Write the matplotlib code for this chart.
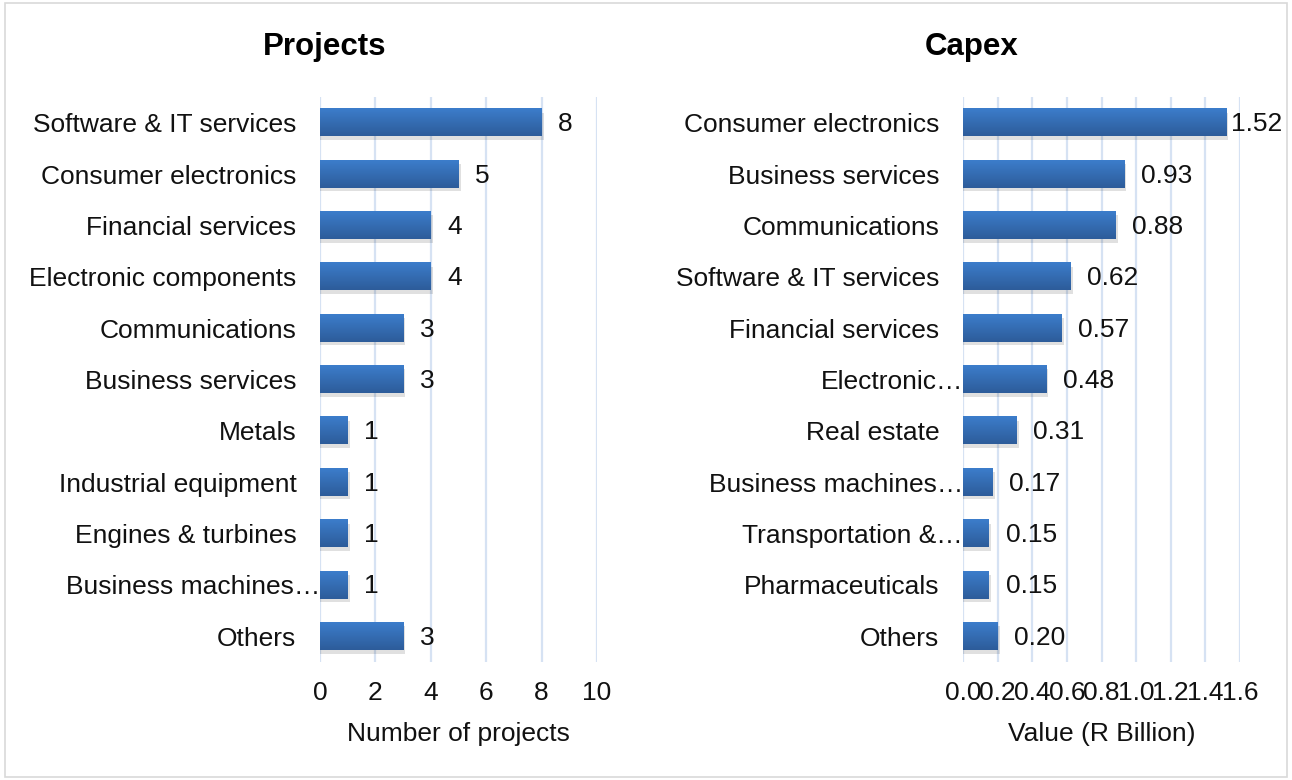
import matplotlib
matplotlib.use("Agg")
import matplotlib.pyplot as plt
import numpy as np
from matplotlib.patches import Rectangle
from matplotlib.transforms import ScaledTranslation

plt.rcParams['font.family'] = ['Liberation Sans', 'DejaVu Sans']

# data
proj_labels = ["Software & IT services", "Consumer electronics", "Financial services",
               "Electronic components", "Communications", "Business services", "Metals",
               "Industrial equipment", "Engines & turbines", "Business machines\u2026", "Others"]
proj_values = [8, 5, 4, 4, 3, 3, 1, 1, 1, 1, 3]
proj_ticks = [0, 2, 4, 6, 8, 10]

capex_labels = ["Consumer electronics", "Business services", "Communications",
                "Software & IT services", "Financial services", "Electronic\u2026",
                "Real estate", "Business machines\u2026", "Transportation &\u2026",
                "Pharmaceuticals", "Others"]
capex_values = [1.52, 0.93, 0.88, 0.62, 0.57, 0.48, 0.31, 0.17, 0.15, 0.15, 0.20]
capex_ticks = [0.0, 0.2, 0.4, 0.6, 0.8, 1.0, 1.2, 1.4, 1.6]

FS = 19
grad = np.linspace(0, 1, 50).reshape(-1, 1)
cmap = matplotlib.colors.LinearSegmentedColormap.from_list("bar", ["#3C7DCB", "#2D5C9A"])


def draw_panel(fig, ax, labels, values, ticks, fmt, xlabel, xmax, tick_fmt):
    n = len(labels)
    ypos = np.arange(n)
    h = 0.53
    ax.set_xticks(ticks)
    ax.set_xticklabels([tick_fmt(t) for t in ticks])
    ax.set_yticks(ypos)
    ax.set_yticklabels(labels)
    ax.xaxis.grid(True, color="#D6E2F3", linewidth=1.6)
    ax.set_axisbelow(True)
    for s in ax.spines.values():
        s.set_visible(False)
    ax.tick_params(length=0, labelsize=FS, colors="#111111")
    ax.tick_params(axis='x', pad=14)
    ax.tick_params(axis='y', pad=17)
    # truncated labels run up to the axis
    for lab in ax.get_yticklabels():
        if lab.get_text().endswith("\u2026"):
            lab.set_transform(lab.get_transform() + ScaledTranslation(17 / 72, 0, fig.dpi_scale_trans))
    off = xmax * 0.06
    for y, v in zip(ypos, values):
        # shadow
        ax.add_patch(Rectangle((0, y - h / 2 + 0.07), v + xmax * 0.008, h, facecolor="#000000",
                               alpha=0.12, edgecolor="none", zorder=2))
        ax.imshow(grad, extent=[0, v, y + h / 2, y - h / 2], cmap=cmap, aspect='auto',
                  zorder=3, interpolation='bilinear')
        ax.text(min(v + off, xmax * 0.967), y + 0.03, fmt(v), va='center', ha='left', fontsize=FS,
                color="#111111", zorder=4)
    ax.set_xlim(0, xmax)
    ax.set_ylim(n - 0.5, -0.5)
    ax.set_xlabel(xlabel, fontsize=FS, labelpad=12, color="#111111")


fig = plt.figure(figsize=(12.92, 7.8), dpi=100)
fig.patches.append(Rectangle((5 / 1292, 3 / 780), 1282 / 1292, 774 / 780, transform=fig.transFigure,
                             fill=False, edgecolor="#D9D9D9", linewidth=1.2))

ax1 = fig.add_axes([320 / 1292, 1 - 662 / 780, 277 / 1292, 565 / 780])
draw_panel(fig, ax1, proj_labels, proj_values, proj_ticks, lambda v: "%d" % v,
           "Number of projects", 10, lambda t: "%d" % t)

ax2 = fig.add_axes([963 / 1292, 1 - 662 / 780, 277 / 1292, 565 / 780])
draw_panel(fig, ax2, capex_labels, capex_values, capex_ticks, lambda v: "%.2f" % v,
           "Value (R Billion)", 1.6, lambda t: "%.1f" % t)

fig.text(325 / 1292, 1 - 47 / 780, "Projects", ha='center', va='center', fontsize=22.5,
         fontweight='bold')
fig.text(972 / 1292, 1 - 47 / 780, "Capex", ha='center', va='center', fontsize=22.5,
         fontweight='bold')

fig.savefig("out.png", dpi=100)
